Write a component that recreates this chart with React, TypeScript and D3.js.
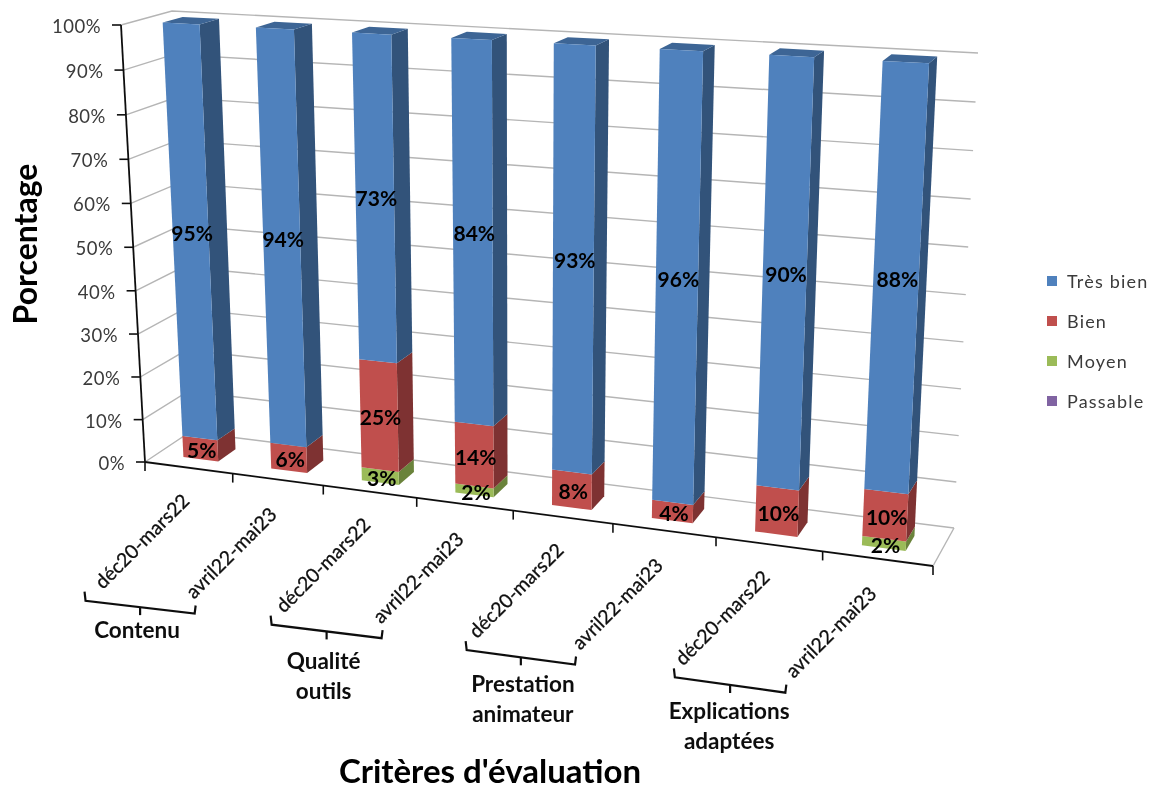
import React from "react";
import * as d3 from "d3";

const categories = ["déc20-mars22", "avril22-mai23", "déc20-mars22", "avril22-mai23", "déc20-mars22", "avril22-mai23", "déc20-mars22", "avril22-mai23"];
const passable = [0, 0, 0, 0, 0, 0, 0, 0];
const moyen = [0, 0, 3, 2, 0, 0, 0, 2];
const bien = [5, 6, 25, 14, 8, 4, 10, 10];
const tresBien = [95, 94, 73, 84, 93, 96, 90, 88];
const groups = [["Contenu"], ["Qualité", "outils"], ["Prestation", "animateur"], ["Explications", "adaptées"]];
const yTicks = [0, 10, 20, 30, 40, 50, 60, 70, 80, 90, 100];
const seriesNames = ["Très bien", "Bien", "Moyen", "Passable"];

const FILL: Record<string, [string, string, string]> = {
  "Très bien": ["#4F81BD", "#31527A", "#3C6595"],
  Bien: ["#C0504D", "#7E3331", "#9A3F3C"],
  Moyen: ["#9BBB59", "#6B833B", "#7F9A48"],
  Passable: ["#8064A2", "#54416B", "#665082"],
};
const FONT = "Lato, 'Open Sans', sans-serif";

type P = [number, number];
const F00: P = [145, 462], F10: P = [933, 566], F01: P = [121, 25], F11: P = [959, 70];
const B00: P = [190, 432], B10: P = [954, 528], B01: P = [172, 11], B11: P = [978, 53];

const warp = (t: number, k: number) => t / (t + k * (1 - t));
const uScale = d3.scaleLinear().domain([0, categories.length]).range([0, 1]);
const vScale = d3.scaleLinear().domain([0, 1]).range([0, 1]);
const lerp = (a: P, b: P, t: number): P => [a[0] + (b[0] - a[0]) * t, a[1] + (b[1] - a[1]) * t];

function project(u: number, v: number, w: number): P {
  const s = warp(uScale(u), 1.14);
  const h = warp(vScale(v), 1.035);
  const f = lerp(lerp(F00, F10, s), lerp(F01, F11, s), h);
  const b = lerp(lerp(B00, B10, s), lerp(B01, B11, s), h);
  return lerp(f, b, w);
}

const rows = categories.map((_, i) => ({
  i,
  Passable: passable[i],
  Moyen: moyen[i],
  Bien: bien[i],
  "Très bien": tresBien[i],
}));
const stacked = d3
  .stack<any>()
  .keys(["Passable", "Moyen", "Bien", "Très bien"])
  .offset(d3.stackOffsetExpand)(rows);

const HALF = 0.2, W0 = 0.28, W1 = 0.68;
const poly = (pts: P[]) => d3.line()(pts) + "Z";

const LABEL_DX = -47, LABEL_DY = 73;
const labelCenter = (i: number): P => {
  const p = project(i + 0.5, 0, 0);
  return [p[0] + LABEL_DX, p[1] + LABEL_DY];
};
const bracketLeftDx = [-56, -51, -49, -47];
const bracketRightDx = [-36, -36, -42, -45];
const groupLabelDx = [-3, -3, 2, -1];
const groupLabelDy = [-4, 3, 0, 0];

export default function App() {
  const segs: React.ReactNode[] = [];
  const texts: React.ReactNode[] = [];
  stacked.forEach((layer) => {
    const key = layer.key;
    layer.forEach((d, i) => {
      const [y0, y1] = d;
      if (y1 - y0 <= 0) return;
      const l = i + 0.5 - HALF, r = i + 0.5 + HALF;
      const [c0, c1, c2] = FILL[key];
      segs.push(
        <g key={key + i}>
          <path d={poly([project(r, y0, W0), project(r, y0, W1), project(r, y1, W1), project(r, y1, W0)])} fill={c1} />
          {y1 > 0.999 && (
            <path d={poly([project(l, y1, W0), project(r, y1, W0), project(r, y1, W1), project(l, y1, W1)])} fill={c2} />
          )}
          <path d={poly([project(l, y0, W0), project(r, y0, W0), project(r, y1, W0), project(l, y1, W0)])} fill={c0} />
        </g>
      );
      const c = project(i + 0.5, (y0 + y1) / 2, W0);
      const raw = (d.data as any)[key];
      const big = key === "Très bien";
      texts.push(
        <text key={"t" + key + i} x={c[0] + 1.5} y={c[1] + (big ? -2 : 1)} textAnchor="middle" dominantBaseline="central" fontFamily={FONT} fontWeight={700} fontSize={21} fill="#000">
          {raw}%
        </text>
      );
    });
  });

  return (
    <svg width={1156} height={785} style={{ position: "absolute", left: 0, top: 0, background: "#fff" }}>
      <defs>
        <filter id="soft" x="0" y="0" width="100%" height="100%" filterUnits="userSpaceOnUse" primitiveUnits="userSpaceOnUse">
          <feGaussianBlur stdDeviation={0.45} />
        </filter>
      </defs>
      <g filter="url(#soft)">
        <rect x={0} y={0} width={1156} height={785} fill="#fff" />
        {yTicks.map((t) => {
          const a = project(0, t / 100, 0), b = project(0, t / 100, 1), c = project(8, t / 100, 1);
          return <path key={t} d={d3.line()([a, b, c]) as string} fill="none" stroke="#b5b5b5" strokeWidth={1.4} />;
        })}
        <path d={d3.line()([project(8, 0, 0), project(8, 0, 1)]) as string} stroke="#b5b5b5" strokeWidth={1.4} fill="none" />
        <path d={d3.line()([project(0, 0, 0), project(0, 1, 0)]) as string} stroke="#111" strokeWidth={1.8} fill="none" />
        <path d={d3.line()([project(0, 0, 0), project(8, 0, 0)]) as string} stroke="#111" strokeWidth={1.8} fill="none" />
        {yTicks.map((t) => {
          const p = project(0, t / 100, 0);
          return (
            <g key={t}>
              <line x1={p[0] - 9} x2={p[0]} y1={p[1]} y2={p[1]} stroke="#111" strokeWidth={1.6} />
              <text x={p[0] - 20} y={p[1] + 1} textAnchor="end" dominantBaseline="central" fontFamily={FONT} fontSize={18.5} letterSpacing={0.5} fill="#3a3a3a">
                {t}%
              </text>
            </g>
          );
        })}
        {d3.range(0, 9).map((i) => {
          const p = project(i, 0, 0);
          return <line key={i} x1={p[0]} x2={p[0]} y1={p[1]} y2={p[1] + 9} stroke="#111" strokeWidth={1.6} />;
        })}
        {segs}
        {texts}
        {categories.map((c, i) => {
          const p = labelCenter(i);
          return (
            <text key={i} transform={`translate(${p[0]},${p[1]}) rotate(-45)`} textAnchor="middle" dominantBaseline="central" fontFamily={FONT} fontSize={19.5} stroke="#111" strokeWidth={0.3} fill="#111">
              {c}
            </text>
          );
        })}
        {groups.map((g, k) => {
          const a = labelCenter(k * 2), b = labelCenter(k * 2 + 1);
          const L: P = [a[0] + bracketLeftDx[k], a[1] + 60], R: P = [b[0] + bracketRightDx[k], b[1] + 61];
          const mid = lerp(L, R, 0.5);
          const tx = mid[0] + groupLabelDx[k];
          return (
            <g key={k}>
              <path d={d3.line()([[L[0] - 1, L[1] - 9], L, R, [R[0] + 1, R[1] - 8]]) as string} fill="none" stroke="#111" strokeWidth={2.2} />
              <line x1={mid[0]} x2={mid[0]} y1={mid[1]} y2={mid[1] + 8} stroke="#111" strokeWidth={2.2} />
              {g.map((line, j) => (
                <text key={j} x={tx} y={mid[1] + 26 + groupLabelDy[k] + j * 30} textAnchor="middle" dominantBaseline="central" fontFamily={FONT} fontWeight={700} fontSize={22.5} fill="#111">
                  {line}
                </text>
              ))}
            </g>
          );
        })}
        {seriesNames.map((s, i) => (
          <g key={s}>
            <rect x={1047} y={276 + i * 40} width={10} height={10} fill={FILL[s][0]} />
            <text x={1067} y={281 + i * 40} dominantBaseline="central" fontFamily={FONT} fontSize={18} letterSpacing={1.2} fill="#3a3a3a">
              {s}
            </text>
          </g>
        ))}
        <text transform="translate(24,244) rotate(-90)" textAnchor="middle" dominantBaseline="central" fontFamily={FONT} fontWeight={700} fontSize={32} fill="#000">
          Porcentage
        </text>
        <text x={490} y={770} textAnchor="middle" dominantBaseline="central" fontFamily={FONT} fontWeight={700} fontSize={33} fill="#000">
          Critères d'évaluation
        </text>
      </g>
    </svg>
  );
}
